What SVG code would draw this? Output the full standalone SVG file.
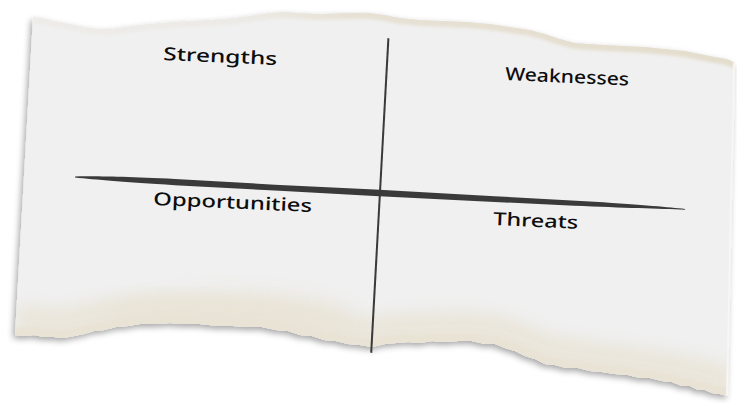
<svg xmlns="http://www.w3.org/2000/svg" width="737" height="403" viewBox="0 0 737 403">
  <style>
    .label { font-family: "Noto Sans", "DejaVu Sans", sans-serif; font-size: 18px; font-weight: 500; fill: #0d0d0d; }
    .ink { fill: #3a3a3a; }
  </style>
  <defs>
    <!-- torn sheet outline -->
    <path id="sheet" d="M33,17 L42,18 L55,21 L70,24 L85,27 L100,29 L112,29 L125,27 L140,25 L160,23 L185,21 L210,20 L235,18 L255,15 L270,13 L285,12 L300,13 L320,14 L345,13 L370,13 L385,15 L400,18 L420,20 L445,21 L467,22 L490,24 L510,27 L530,30 L545,34 L560,39 L575,43 L590,44 L605,45 L625,46 L645,47 L665,49 L685,51 L700,54 L715,57 L727,59 L735,63 L734,120 L732,200 L730,300 L728,396 L720,394 L712,393 L705,390 L698,390 L690,386 L682,386 L672,382 L662,381 L650,378 L640,378 L628,375 L615,374 L602,372 L590,371 L578,368 L566,368 L555,365 L545,364 L535,359 L525,356 L515,351 L505,348 L495,344 L485,344 L472,341 L458,341 L445,342 L432,341 L420,343 L408,342 L396,343 L385,344 L372,347 L360,345 L348,344 L336,341 L324,340 L312,336 L300,335 L288,331 L276,330 L262,327 L248,327 L233,326 L218,326 L200,324 L185,324 L170,323 L155,324 L140,324 L128,326 L116,327 L104,330 L94,331 L84,334 L74,336 L64,338 L54,337 L44,337 L34,335 L24,336 L15,335 Z"/>
    <!-- top torn edge -->
    <path id="topEdge" d="M33,17 L42,18 L55,21 L70,24 L85,27 L100,29 L112,29 L125,27 L140,25 L160,23 L185,21 L210,20 L235,18 L255,15 L270,13 L285,12 L300,13 L320,14 L345,13 L370,13 L385,15 L400,18 L420,20 L445,21 L467,22 L490,24 L510,27 L530,30 L545,34 L560,39 L575,43 L590,44 L605,45 L625,46 L645,47 L665,49 L685,51 L700,54 L715,57 L727,59 L735,63"/>
    <!-- bottom torn edge -->
    <path id="bottomEdge" d="M728,396 L720,394 L712,393 L705,390 L698,390 L690,386 L682,386 L672,382 L662,381 L650,378 L640,378 L628,375 L615,374 L602,372 L590,371 L578,368 L566,368 L555,365 L545,364 L535,359 L525,356 L515,351 L505,348 L495,344 L485,344 L472,341 L458,341 L445,342 L432,341 L420,343 L408,342 L396,343 L385,344 L372,347 L360,345 L348,344 L336,341 L324,340 L312,336 L300,335 L288,331 L276,330 L262,327 L248,327 L233,326 L218,326 L200,324 L185,324 L170,323 L155,324 L140,324 L128,326 L116,327 L104,330 L94,331 L84,334 L74,336 L64,338 L54,337 L44,337 L34,335 L24,336 L15,335"/>
    <clipPath id="sheetClip"><use href="#sheet"/></clipPath>
    <!-- cream fibres fade in along the top tear towards the right -->
    <linearGradient id="topFibre" gradientUnits="userSpaceOnUse" x1="33" y1="0" x2="735" y2="0">
      <stop offset="0" stop-color="#e6e0d2" stop-opacity="0.25"/>
      <stop offset="0.3" stop-color="#e6e0d2" stop-opacity="0.35"/>
      <stop offset="0.45" stop-color="#e6e0d2" stop-opacity="0.9"/>
      <stop offset="1" stop-color="#e4ddcd" stop-opacity="1"/>
    </linearGradient>
    <filter id="shadow" x="-5%" y="-5%" width="110%" height="115%">
      <feDropShadow dx="-2" dy="3" stdDeviation="3" flood-color="#000" flood-opacity="0.35"/>
    </filter>
    <filter id="soft" x="-10%" y="-50%" width="120%" height="200%">
      <feGaussianBlur stdDeviation="7"/>
    </filter>
    <filter id="softer" x="-10%" y="-50%" width="120%" height="200%">
      <feGaussianBlur stdDeviation="1.5"/>
    </filter>
    <filter id="haze" x="-30%" y="-50%" width="160%" height="200%">
      <feGaussianBlur stdDeviation="10"/>
    </filter>
  </defs>

  <rect width="737" height="403" fill="#ffffff"/>

  <!-- paper sheet -->
  <g id="paper">
    <use href="#sheet" fill="#f0f0f0" filter="url(#shadow)"/>
    <g clip-path="url(#sheetClip)">
      <!-- fibrous cream rims along the tears -->
      <ellipse cx="230" cy="315" rx="120" ry="22" fill="#ebe6da" opacity="0.8" filter="url(#haze)"/>
      <use href="#bottomEdge" fill="none" stroke="#e8e2d3" stroke-width="60" filter="url(#soft)" opacity="0.7"/>
      <use href="#bottomEdge" fill="none" stroke="#e9e3d5" stroke-width="16" filter="url(#softer)"/>
      <use href="#topEdge" fill="none" stroke="url(#topFibre)" stroke-width="12" filter="url(#softer)"/>
      <!-- right edge highlight -->
      <path d="M735,63 L734,120 L732,200 L730,300 L728,396" fill="none" stroke="#f7f6f3" stroke-width="4"/>
    </g>
  </g>

  <!-- dividing strokes -->
  <g id="connectors">
    <!-- horizontal brush stroke -->
    <path class="ink" transform="translate(75,177) rotate(3)" d="M0,-0.6 C20,-2 50,-3 100,-3.2 L200,-2.8 L300,-3.2 L420,-2.8 L520,-2.4 C570,-1.8 595,-0.8 611,0 L611,0.7 C585,1.2 550,2 500,2.6 L400,3 L300,3.3 L200,3 L100,3 C50,2.6 20,1.6 0,0.6 Z"/>
    <!-- vertical stroke -->
    <path class="ink" d="M387.4,38 L389.4,38.5 L372.2,353 L370.2,352.5 Z"/>
  </g>

  <!-- quadrant labels -->
  <g id="strengths">
    <text class="label" x="163" y="60" textLength="114" lengthAdjust="spacingAndGlyphs" transform="rotate(2.5 163 60)">Strengths</text>
  </g>
  <g id="weaknesses">
    <text class="label" x="505" y="80" textLength="124" lengthAdjust="spacingAndGlyphs" transform="rotate(2.5 505 80)">Weaknesses</text>
  </g>
  <g id="opportunities">
    <text class="label" x="153" y="205" textLength="159" lengthAdjust="spacingAndGlyphs" transform="rotate(2.5 153 205)">Opportunities</text>
  </g>
  <g id="threats">
    <text class="label" x="493" y="225" textLength="85" lengthAdjust="spacingAndGlyphs" transform="rotate(2.5 493 225)">Threats</text>
  </g>
</svg>
